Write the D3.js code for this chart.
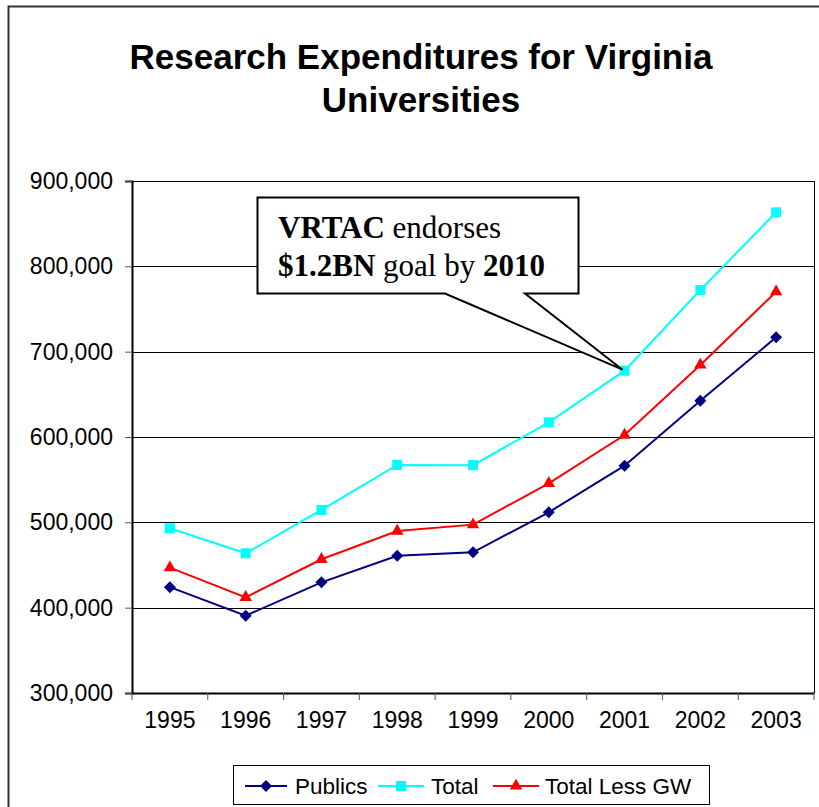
<!DOCTYPE html>
<html><head><meta charset="utf-8">
<script src="https://cdn.jsdelivr.net/npm/d3@7"></script>
<style>body{margin:0;background:#fff}svg{display:block}</style>
</head><body>
<script>
const years = ["1995","1996","1997","1998","1999","2000","2001","2002","2003"];
const publics = [424000,390600,429700,460900,464900,511800,566400,642500,716800];
const total = [493000,463700,514500,567200,567000,617200,677700,772300,863300];
const totalLessGW = [446900,412100,456700,489800,497300,545700,602300,684400,770300];
const yTicks = [300000,400000,500000,600000,700000,800000,900000];
const seriesNames = ["Publics","Total","Total Less GW"];
const titleLines = ["Research Expenditures for Virginia","Universities"];
const calloutHighlightYear = "2001";

(function(){
const W = 819, H = 807;
const svg = d3.select("body").append("svg").attr("width", W).attr("height", H);

// outer chart border
svg.append("rect").attr("x",8.5).attr("y",6.5).attr("width",W+20).attr("height",H+20)
  .attr("fill","none").attr("stroke","#333").attr("stroke-width",2);

// title
const title = svg.append("text").attr("text-anchor","middle")
  .attr("font-family","Liberation Sans, Arial, sans-serif").attr("font-weight","bold")
  .attr("font-size",35).attr("fill","#000");
titleLines.forEach((t,i)=>title.append("tspan").attr("x",421).attr("y",69+i*43).text(t));

const pL = 132, pR = 814, pT = 181, pB = 693;
const x = d3.scaleBand().domain(years).range([pL,pR]).padding(0);
const y = d3.scaleLinear().domain([300000,900000]).range([pB,pT]);

// gridlines
svg.append("g").selectAll("line").data(yTicks.slice(1)).join("line")
  .attr("x1",pL).attr("x2",pR).attr("y1",d=>Math.round(y(d))+0.5).attr("y2",d=>Math.round(y(d))+0.5)
  .attr("stroke","#000").attr("stroke-width",1);

// right border of plot
svg.append("line").attr("x1",pR+0.5).attr("x2",pR+0.5).attr("y1",pT).attr("y2",pB)
  .attr("stroke","#000").attr("stroke-width",1);

const fmt = d3.format(",");
const yAxis = svg.append("g").attr("transform",`translate(${pL},0)`)
  .call(d3.axisLeft(y).tickValues(yTicks).tickFormat(fmt).tickSizeOuter(0).tickSize(7).tickPadding(12));
yAxis.select(".domain").attr("stroke","#000").attr("stroke-width",2);
yAxis.selectAll(".tick line").attr("stroke","#555");
yAxis.selectAll("text").attr("font-family","Liberation Sans, Arial, sans-serif").attr("font-size",23).attr("fill","#000");

const xAxis = svg.append("g").attr("transform",`translate(0,${pB})`)
  .call(d3.axisBottom(x).tickSize(0).tickPadding(19));
xAxis.select(".domain").attr("stroke","#000").attr("stroke-width",2);
xAxis.selectAll("text").attr("font-family","Liberation Sans, Arial, sans-serif").attr("font-size",23).attr("fill","#000").attr("dy","0.71em");
// band boundary ticks
svg.append("g").selectAll("line").data(years.concat(["end"])).join("line")
  .attr("x1",(d,i)=> i<years.length ? x(d) : pR).attr("x2",(d,i)=> i<years.length ? x(d) : pR)
  .attr("y1",pB).attr("y2",pB+7).attr("stroke","#555").attr("stroke-width",1);

const series = [
  {name:seriesNames[0], values:publics, color:"#000080", sym:d3.symbolSquare, size:72, rot:45},
  {name:seriesNames[1], values:total, color:"#00ffff", sym:d3.symbolSquare, size:100, rot:0},
  {name:seriesNames[2], values:totalLessGW, color:"#ff0000", sym:d3.symbolTriangle, size:68, rot:0}
];
const line = d3.line().x((d,i)=>x(years[i])+x.bandwidth()/2).y(d=>y(d));

series.forEach(s=>{
  svg.append("path").attr("d",line(s.values)).attr("fill","none").attr("stroke",s.color).attr("stroke-width",2);
  svg.append("g").selectAll("path").data(s.values).join("path")
    .attr("transform",(d,i)=>`translate(${x(years[i])+x.bandwidth()/2},${y(d)}) rotate(${s.rot})`)
    .attr("d",d3.symbol(s.sym,s.size)).attr("fill",s.color);
});

// callout
const ci = years.indexOf(calloutHighlightYear);
const px = x(calloutHighlightYear)+x.bandwidth()/2, py = y(total[ci]);
const bx0=257.5, by0=197.5, bx1=578.5, by1=293.5;
svg.append("path")
  .attr("d",`M${bx0},${by0}H${bx1}V${by1}H525L${px-2},${py-1}L445,${by1}H${bx0}Z`)
  .attr("fill","#fff").attr("stroke","#000").attr("stroke-width",2).attr("stroke-linejoin","miter");
const ct = svg.append("text").attr("font-family","Liberation Serif, Times New Roman, serif").attr("font-size",31).attr("fill","#000");
ct.append("tspan").attr("x",278).attr("y",238).attr("font-weight","bold").text("VRTAC");
ct.append("tspan").text(" endorses");
ct.append("tspan").attr("x",278).attr("y",276).attr("font-weight","bold").text("$1.2BN");
ct.append("tspan").text(" goal by ");
ct.append("tspan").attr("font-weight","bold").text("2010");

// legend
const lg = svg.append("g");
lg.append("rect").attr("x",233.5).attr("y",765.5).attr("width",476).attr("height",39)
  .attr("fill","#fff").attr("stroke","#000").attr("stroke-width",1);
const legendItems = [
  {s:series[0], x0:245, x1:287, tx:295},
  {s:series[1], x0:378, x1:424, tx:431},
  {s:series[2], x0:493, x1:539, tx:545}
];
legendItems.forEach(it=>{
  const cy = 786;
  lg.append("line").attr("x1",it.x0).attr("x2",it.x1).attr("y1",cy).attr("y2",cy).attr("stroke",it.s.color).attr("stroke-width",2);
  lg.append("path").attr("transform",`translate(${(it.x0+it.x1)/2},${cy}) rotate(${it.s.rot})`).attr("d",d3.symbol(it.s.sym,it.s.size)).attr("fill",it.s.color);
  lg.append("text").attr("x",it.tx).attr("y",cy+8).attr("font-family","Liberation Sans, Arial, sans-serif").attr("font-size",22.5).attr("fill","#000").text(it.s.name);
});
})();
</script>
</body></html>
